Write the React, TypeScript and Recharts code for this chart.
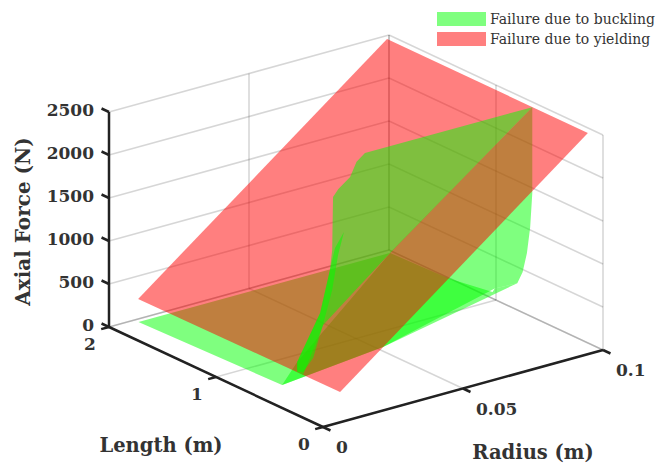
import { Legend, Scatter, ScatterChart, XAxis, YAxis } from 'recharts';

type Vertex = [radius: number, length: number, force: number];

const radiusTicks = [0, 0.05, 0.1];
const lengthTicks = [0, 1, 2];
const forceTicks = [0, 500, 1000, 1500, 2000, 2500];
const radiusMax = 0.1;
const lengthMax = 2;
const forceMax = 2500;

// Yield plane
const yieldPlane: Vertex[] = [
  [0.0104, 2, 233],
  [0.0993, 2, 2459],
  [0.0946, 0, 2571],
  [0.0061, 0, 352],
];

// Buckling surface: the part under the yield plane
const bucklingLow: Vertex[] = [
  [0.009, 1.96, 0],
  [0.011, 0.67, 0],
  [0.052, 0.8, 0],
  [0.09, 0.75, 370],
  [0.095, 0.67, 432],
  [0.095, 0.62, 590],
  [0.095, 0.58, 835],
  [0.095, 0.55, 1150],
  [0.095, 0.53, 1560],
  [0.095, 0.53, 2560],
  [0.0987, 1.96, 0],
];

// Fold of the surface that lies on the floor, also under the plane
const bucklingFold: Vertex[] = [
  [0.0118, 0.55, 331],
  [0.0469, 0.6, 1255],
  [0.0997, 1.44, 0],
  [0.098, 0.98, 123],
  [0.09, 0.75, 370],
  [0.095, 0.67, 432],
  [0.052, 0.8, 0],
  [0.011, 0.67, 0],
];

// The part that rises above the yield plane
const bucklingHigh: Vertex[] = [
  [0.095, 0.53, 2560],
  [0.036, 0.55, 2544],
  [0.033, 0.55, 2470],
  [0.0307, 0.55, 2313],
  [0.0265, 0.55, 2210],
  [0.0246, 0.55, 2135],
  [0.0243, 0.55, 1521],
  [0.0235, 0.55, 1295],
  [0.02, 0.55, 827],
  [0.0118, 0.55, 331],
  [0.0118, 0.55, 215],
  [0.0139, 0.55, 160],
  [0.0268, 0.7, 540],
  [0.0469, 0.6, 1255],
];

// Thin sliver where the surface folds over itself
const bucklingSliver: Vertex[] = [
  [0.0285, 0.55, 1692],
  [0.0264, 0.55, 1444],
  [0.0243, 0.55, 1056],
  [0.021, 0.55, 678],
  [0.0175, 0.55, 325],
  [0.0139, 0.55, 195],
  [0.0118, 0.55, 215],
  [0.0118, 0.55, 331],
  [0.02, 0.55, 827],
  [0.0235, 0.55, 1295],
  [0.0253, 0.55, 1535],
];

const legendItems = [
  { name: 'Failure due to buckling', color: 'rgba(0,255,0,0.5)' },
  { name: 'Failure due to yielding', color: 'rgba(255,0,0,0.5)' },
];

const WIDTH = 657;
const HEIGHT = 465;
const TEXT = '#333333';
const AXIS = '#222222';
const SERIF = '"DejaVu Serif", serif';

// Orthographic view of the 3D box, gives page coordinates for the hidden axes
function project([r, l, f]: Vertex) {
  const rr = r / radiusMax;
  const ll = l / lengthMax;
  return {
    px: 323 + 280 * rr - 214 * ll,
    py: 427 - 77 * rr - 100 * ll - (215 * f) / forceMax,
  };
}

const none = () => <g />;

function poly(id: string, pts: Vertex[], fill: string) {
  return (
    <Scatter
      key={id}
      data={pts.map(project)}
      dataKey="py"
      isAnimationActive={false}
      legendType="none"
      shape={none}
      line={{ fill, fillOpacity: 0.5, stroke: 'none' }}
    />
  );
}

function segment(id: string, a: Vertex, b: Vertex, stroke: string, width: number) {
  return (
    <Scatter
      key={id}
      data={[a, b].map(project)}
      dataKey="py"
      isAnimationActive={false}
      legendType="none"
      shape={none}
      line={{ stroke, strokeWidth: width, fill: 'none' }}
    />
  );
}

function label(
  id: string,
  at: Vertex,
  text: string,
  dx: number,
  dy: number,
  size: number,
  anchor: 'start' | 'middle' | 'end',
  rotate = 0,
) {
  const drawText = (p: any) => {
    const x = p.cx + dx;
    const y = p.cy + dy;
    return (
      <text
        x={x}
        y={y}
        fontFamily={SERIF}
        fontWeight="bold"
        fontSize={size}
        fill={TEXT}
        textAnchor={anchor}
        dominantBaseline="central"
        transform={rotate ? `rotate(${rotate} ${x} ${y})` : undefined}
      >
        {text}
      </text>
    );
  };
  return (
    <Scatter
      key={id}
      data={[project(at)]}
      dataKey="py"
      isAnimationActive={false}
      legendType="none"
      shape={drawText}
    />
  );
}

function LegendBox() {
  return (
    <div style={{ fontFamily: SERIF, fontSize: 14, color: TEXT }}>
      {legendItems.map((item) => (
        <div key={item.name} style={{ display: 'flex', alignItems: 'center', height: 20 }}>
          <span style={{ width: 49, height: 14, background: item.color, marginRight: 4 }} />
          <span style={{ whiteSpace: 'nowrap' }}>{item.name}</span>
        </div>
      ))}
    </div>
  );
}

export default function App() {
  const gridColor = 'rgba(0,0,0,0.16)';
  const grid = [
    ...forceTicks.flatMap((f) => [
      segment(`gl${f}`, [0, lengthMax, f], [radiusMax, lengthMax, f], gridColor, 1.6),
      segment(`gr${f}`, [radiusMax, lengthMax, f], [radiusMax, 0, f], gridColor, 1.6),
    ]),
    ...radiusTicks.flatMap((r) => [
      segment(`wr${r}`, [r, lengthMax, 0], [r, lengthMax, forceMax], gridColor, 1.6),
      segment(`fr${r}`, [r, 0, 0], [r, lengthMax, 0], gridColor, 1.6),
    ]),
    ...lengthTicks.flatMap((l) => [
      segment(`wl${l}`, [radiusMax, l, 0], [radiusMax, l, forceMax], gridColor, 1.6),
      segment(`fl${l}`, [0, l, 0], [radiusMax, l, 0], gridColor, 1.6),
    ]),
  ];

  const axes = [
    segment('axisF', [0, lengthMax, 0], [0, lengthMax, forceMax], AXIS, 2.5),
    segment('axisL', [0, 0, 0], [0, lengthMax, 0], AXIS, 2.5),
    segment('axisR', [0, 0, 0], [radiusMax, 0, 0], AXIS, 2.5),
    ...forceTicks.map((f) => segment(`tf${f}`, [0, lengthMax, f], [0, lengthMax + 0.07, f], AXIS, 2.5)),
    ...lengthTicks.map((l) => segment(`tl${l}`, [0, l, 0], [-0.0028, l, 0], AXIS, 2.5)),
    ...radiusTicks.map((r) => segment(`tr${r}`, [r, 0, 0], [r, -0.07, 0], AXIS, 2.5)),
  ];

  const labels = [
    ...forceTicks.map((f) => label(`lf${f}`, [0, lengthMax, f], String(f), -15, -2, 17, 'end')),
    ...lengthTicks.map((l) => label(`ll${l}`, [0, l, 0], String(l), -19, 17, 17, 'middle')),
    ...radiusTicks.map((r) => label(`lr${r}`, [r, 0, 0], String(r), 13, 20, 17, 'start')),
    label('titleF', [0, lengthMax, forceMax / 2], 'Axial Force (N)', -86, 2, 20, 'middle', -90),
    label('titleL', [0, lengthMax / 2, 0], 'Length (m)', -55, 68, 19.5, 'middle'),
    label('titleR', [radiusMax / 2, 0, 0], 'Radius (m)', 70, 64, 19.5, 'middle'),
  ];

  return (
    <div style={{ position: 'absolute', left: 0, top: 0, width: WIDTH, height: HEIGHT, background: '#fff' }}>
      <ScatterChart width={WIDTH} height={HEIGHT} margin={{ top: 0, right: 0, bottom: 0, left: 0 }}>
        <XAxis type="number" dataKey="px" domain={[0, WIDTH]} hide />
        <YAxis type="number" dataKey="py" domain={[0, HEIGHT]} reversed hide />
        {/* vertical + center + middle keeps the legend from taking room off the plot */}
        <Legend
          content={LegendBox}
          layout="vertical"
          align="center"
          verticalAlign="middle"
          wrapperStyle={{ position: 'absolute', left: 437, top: 9, width: 220 }}
        />
        {grid}
        {poly('green-low', bucklingLow, '#00ff00')}
        {poly('green-fold', bucklingFold, '#00ff00')}
        {poly('red', yieldPlane, '#ff0000')}
        {poly('green-high', bucklingHigh, '#00ff00')}
        {poly('green-sliver', bucklingSliver, '#00ff00')}
        {axes}
        {labels}
      </ScatterChart>
    </div>
  );
}
